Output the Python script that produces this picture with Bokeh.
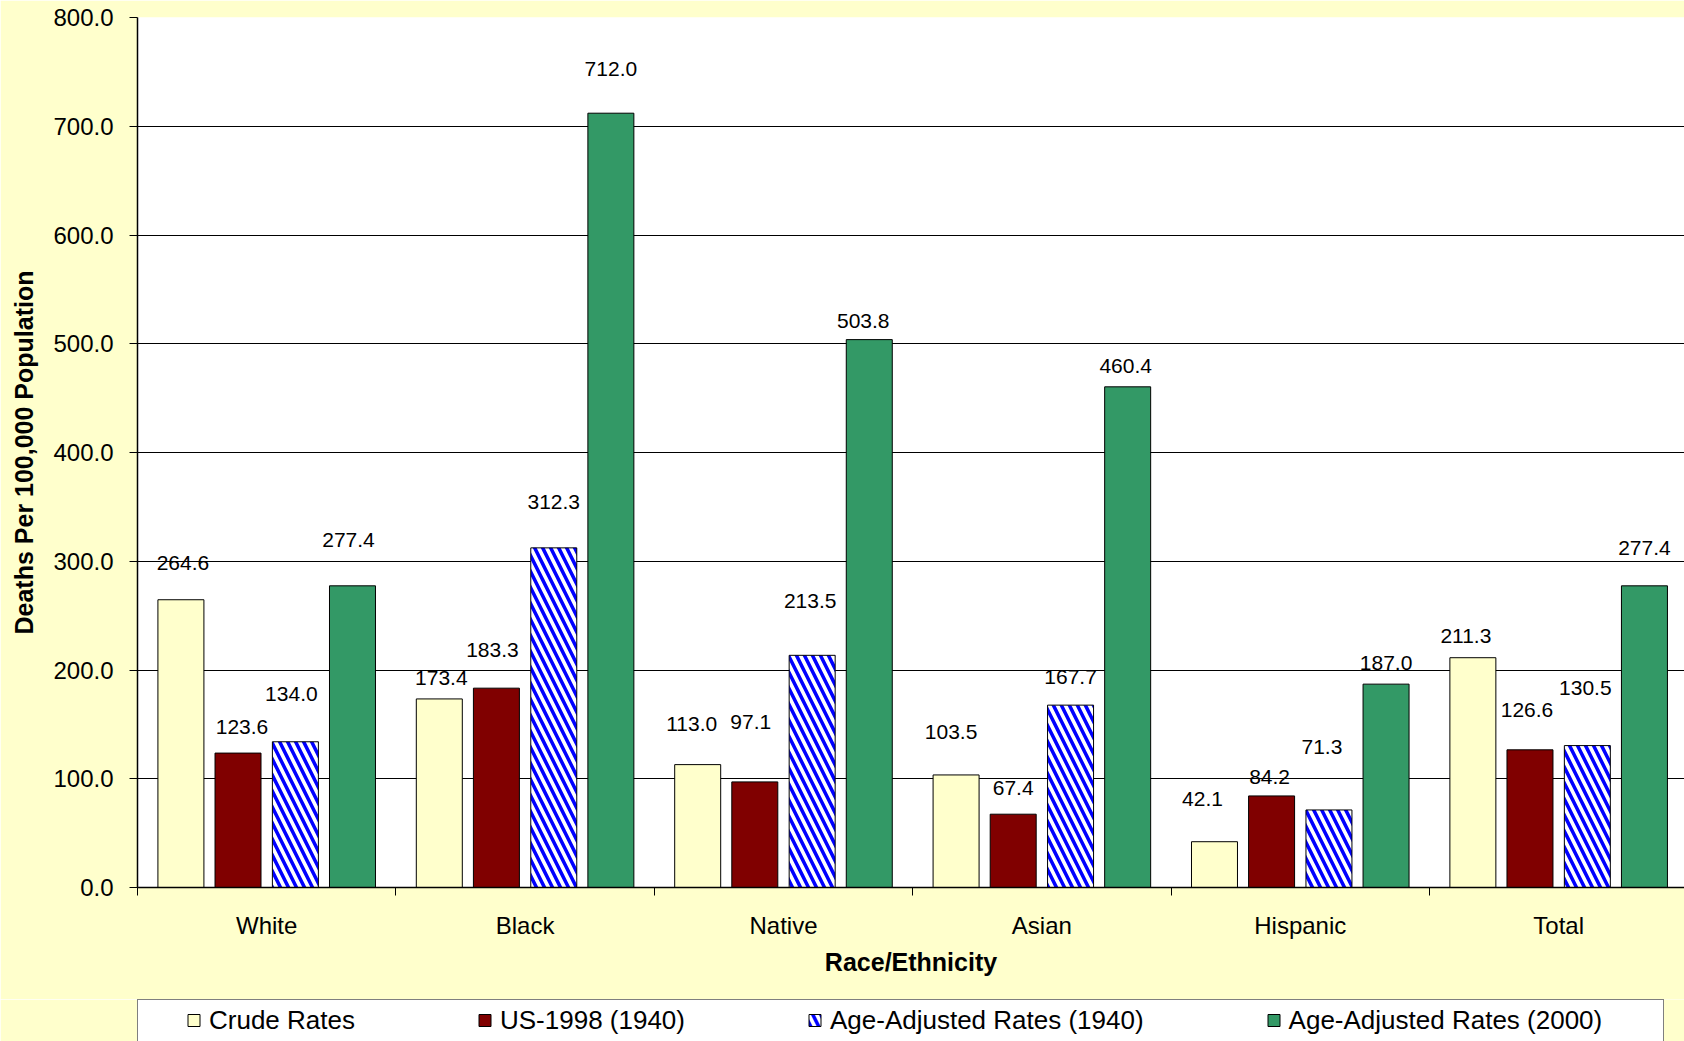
from bokeh.plotting import figure
from bokeh.layouts import column
from bokeh.models import (ColumnDataSource, FixedTicker, Legend, LegendItem, Range1d,
                          NumeralTickFormatter)
from bokeh.embed import file_html
from bokeh.resources import INLINE
from bokeh.core.properties import value

# ---------------- data ----------------
categories = ["White", "Black", "Native", "Asian", "Hispanic", "Total"]
series_names = ["Crude Rates", "US-1998 (1940)",
                "Age-Adjusted Rates (1940)", "Age-Adjusted Rates (2000)"]
crude_rates = [264.6, 173.4, 113.0, 103.5, 42.1, 211.3]
us1998_1940 = [123.6, 183.3, 97.1, 67.4, 84.2, 126.6]
age_adj_1940 = [134.0, 312.3, 213.5, 167.7, 71.3, 130.5]
age_adj_2000 = [277.4, 712.0, 503.8, 460.4, 187.0, 277.4]
y_ticks = [0, 100, 200, 300, 400, 500, 600, 700, 800]

# ---------------- layout / style ----------------
FONT = "Liberation Sans"
BG = "#FFFFCC"
bar_offsets = [-0.332, -0.111, 0.111, 0.332]
bar_width = 0.178
# pixel placement of each data label relative to its bar top (as in the original)
label_gap = [
    [37, 21, 41, 43, 43, 22],
    [26, 38, 60, 26, 19, 40],
    [48, 46, 54, 28, 63, 58],
    [46, 44, 19, 21, 21, 38],
]
label_shift = [
    [2, 2, -6, -5, -12, -7],
    [4, -4, -4, 0, -2, -3],
    [-4, 0, -2, 0, -7, -2],
    [-4, 0, -6, -2, 0, 0],
]
styles = [
    dict(fill_color="#FFFFCC"),
    dict(fill_color="#800000"),
    dict(fill_color="white", hatch_pattern="\\", hatch_color="#0000FF",
         hatch_scale=16, hatch_weight=3.5),
    dict(fill_color="#339966"),
]

W = 1684
H_MAIN = 999
H_LEG = 42
LEFT = 137

p = figure(width=W, height=H_MAIN, output_backend="svg", toolbar_location=None,
           x_range=Range1d(0, 5.987), y_range=Range1d(0, 800),
           min_border_left=LEFT, min_border_right=0, min_border_top=17,
           min_border_bottom=H_MAIN - 887)
p.border_fill_color = BG
p.background_fill_color = "white"
p.outline_line_color = None

series_values = [crude_rates, us1998_1940, age_adj_1940, age_adj_2000]
series_x = []
for j, vals in enumerate(series_values):
    xs = [i + 0.5 + bar_offsets[j] for i in range(len(categories))]
    series_x.append(xs)
    src = ColumnDataSource(dict(x=xs, top=vals,
                                lbl=[f"{v:.1f}" for v in vals],
                                dx=label_shift[j],
                                dy=[-g for g in label_gap[j]]))
    p.vbar(x="x", top="top", bottom=0, width=bar_width, source=src,
           line_color="black", line_width=1, **styles[j])
    p.text(x="x", y="top", text="lbl", x_offset="dx", y_offset="dy", source=src,
           text_align="center", text_baseline="middle",
           text_font=value(FONT), text_font_size="21px", text_color="black")

# ---------------- axes ----------------
p.xgrid.visible = False
p.ygrid.ticker = FixedTicker(ticks=y_ticks)
p.ygrid.grid_line_color = "black"
p.ygrid.grid_line_width = 1

ya = p.yaxis[0]
ya.ticker = FixedTicker(ticks=y_ticks, minor_ticks=[])
ya.formatter = NumeralTickFormatter(format="0.0")
ya.axis_label = "Deaths Per 100,000 Population"
ya.major_tick_out = 8
ya.major_tick_in = 0
ya.major_tick_line_color = "black"
ya.major_label_standoff = 16
ya.axis_label_standoff = 12

xa = p.xaxis[0]
xa.ticker = FixedTicker(ticks=[i + 0.5 for i in range(len(categories))],
                        minor_ticks=list(range(len(categories) + 1)))
xa.major_label_overrides = {i + 0.5: c for i, c in enumerate(categories)}
xa.major_tick_line_color = None
xa.major_tick_out = 0
xa.major_tick_in = 0
xa.minor_tick_out = 8
xa.minor_tick_in = 0
xa.minor_tick_line_color = "black"
xa.axis_label = "Race/Ethnicity"
xa.major_label_standoff = 16
xa.axis_label_standoff = 6

for ax in (xa, ya):
    ax.axis_line_color = "black"
    ax.axis_line_width = 1.5
    ax.major_label_text_font = FONT
    ax.major_label_text_font_size = "24px"
    ax.major_label_text_color = "black"
    ax.axis_label_text_font = FONT
    ax.axis_label_text_font_size = "25px"
    ax.axis_label_text_font_style = "bold"
    ax.axis_label_text_color = "black"

# ---------------- legend strip ----------------
q = figure(width=W, height=H_LEG, output_backend="svg", toolbar_location=None,
           x_range=Range1d(0, 1), y_range=Range1d(-2, -1),
           x_axis_location=None, y_axis_location=None,
           min_border_left=LEFT, min_border_right=0, min_border_top=0,
           min_border_bottom=0)
q.border_fill_color = BG
q.background_fill_color = BG
q.outline_line_color = None
q.xgrid.visible = False
q.ygrid.visible = False

# same series drawn again (outside this strip's visible range) to feed the legend
leg_renderers = [q.vbar(x=series_x[j], top=series_values[j], bottom=0, width=bar_width,
                        line_color="black", line_width=1, **styles[j])
                 for j in range(len(series_values))]

# legend frame (white box with black border)
frame_src = q.vbar(x=series_x[0], top=series_values[0], bottom=0, width=bar_width,
                   fill_alpha=0, line_alpha=0)
box = Legend(items=[LegendItem(label=value(""), renderers=[frame_src])],
             orientation="horizontal", location="top_left", margin=0,
             padding=10, glyph_width=15, glyph_height=15, label_standoff=8,
             label_width=1482, label_height=30,
             label_text_font=FONT, label_text_font_size="26px",
             border_line_color="black", border_line_width=1.5,
             background_fill_color="white", background_fill_alpha=1)
q.add_layout(box, "center")

legend = Legend(items=[LegendItem(label=n, renderers=[r])
                       for n, r in zip(series_names, leg_renderers)],
                orientation="horizontal", location="center_left", margin=49,
                padding=0, spacing=122, glyph_width=15, glyph_height=15,
                label_standoff=8, label_text_font=FONT, label_text_font_size="26px",
                label_text_color="black",
                border_line_color=None, background_fill_alpha=0)
q.add_layout(legend, "center")

layout = column(p, q, spacing=0)
open("out.html", "w").write(file_html(layout, INLINE))
